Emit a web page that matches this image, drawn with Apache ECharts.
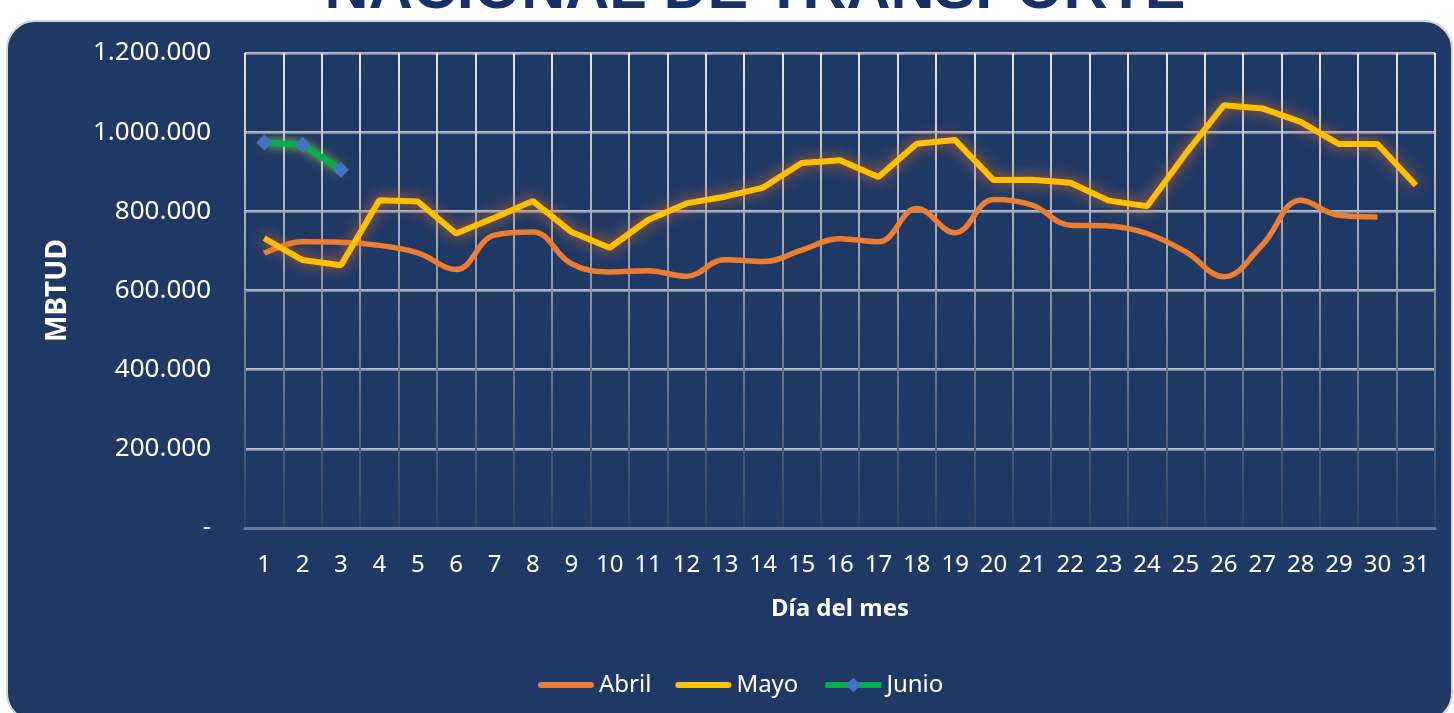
<!DOCTYPE html>
<html>
<head>
<meta charset="utf-8">
<script src="https://cdn.jsdelivr.net/npm/echarts@6/dist/echarts.min.js"></script>
<style>
html,body{margin:0;padding:0;background:#fff;}
#chart{width:1454px;height:713px;}
</style>
</head>
<body>
<div id="chart"></div>
<script>
const days = ['1','2','3','4','5','6','7','8','9','10','11','12','13','14','15','16','17','18','19','20','21','22','23','24','25','26','27','28','29','30','31'];
const abril = [694000, 723000, 722000, 714000, 695000, 653000, 740000, 748000, 668000, 647000, 650000, 636000, 678000, 673000, 702000, 731000, 723000, 807000, 746000, 830000, 816000, 765000, 763000, 744000, 698000, 635000, 715000, 828000, 790000, 786000, null];
const mayo = [732000, 677000, 664000, 828000, 825000, 744000, 784000, 826000, 748000, 708000, 778000, 820000, 837000, 860000, 922000, 929000, 887000, 971000, 980000, 879000, 880000, 872000, 827000, 813000, 945000, 1068000, 1060000, 1026000, 970000, 970000, 866000];
const junio = [974000, 968000, 905000];
const seriesNames = ['Abril', 'Mayo', 'Junio'];
const titleText = 'NACIONAL DE TRANSPORTE';
const yAxisName = 'MBTUD';
const xAxisName = 'Día del mes';

const chart = echarts.init(document.getElementById('chart'));
const font = '"Noto Sans", "Open Sans", sans-serif';
const gridGrad = new echarts.graphic.LinearGradient(0, 0, 0, 1, [
  {offset: 0, color: '#E6E8EC'},
  {offset: 1, color: '#4E5F80'}
]);
const vGrad = new echarts.graphic.LinearGradient(0, 0, 0, 1, [
  {offset: 0, color: '#E6E8EC'},
  {offset: 1, color: '#2E3F60'}
]);
const barIcon = 'path://M3,0 L53,0 A3,3 0 0 1 53,6 L3,6 A3,3 0 0 1 3,0 Z';
function fmt(v){
  if (v === 0) return '-';
  return String(v).replace(/\B(?=(\d{3})+(?!\d))/g, '.');
}
chart.setOption({
  backgroundColor: '#ffffff',
  animation: false,
  graphic: [
    {type: 'rect', z: -10, shape: {x: 7, y: 21, width: 1445, height: 700, r: 28},
     style: {fill: '#203864', stroke: '#D4D4D4', lineWidth: 2}},
    {type: 'text', z: 10, x: 755, y: -9,
     style: {text: titleText, fill: '#17306A', font: 'bold 61px "Liberation Sans", Arial, sans-serif',
             align: 'center', verticalAlign: 'middle'}}
  ],
  grid: {left: 245, right: 19, top: 53, bottom: 185, containLabel: false},
  legend: {
    data: [
      {name: seriesNames[0], icon: barIcon},
      {name: seriesNames[1], icon: barIcon},
      {name: seriesNames[2]}
    ],
    left: 533, top: 668,
    itemWidth: 56, itemHeight: 18, itemGap: 24,
    lineStyle: {width: 6, shadowBlur: 0},
    textStyle: {color: '#ffffff', fontSize: 24, fontFamily: font}
  },
  xAxis: {
    type: 'category', data: days, boundaryGap: true,
    name: xAxisName, nameLocation: 'middle', nameGap: 69,
    nameTextStyle: {color: '#ffffff', fontSize: 24, fontWeight: 'bold', fontFamily: font},
    axisLine: {show: true, lineStyle: {color: '#6B7A98', width: 3}},
    axisTick: {show: false},
    axisLabel: {color: '#ffffff', fontSize: 24, fontFamily: font, margin: 25, interval: 0},
    splitLine: {show: true, interval: 0, lineStyle: {color: vGrad, width: 2}}
  },
  yAxis: {
    type: 'value', min: 0, max: 1200000, interval: 200000,
    name: yAxisName, nameLocation: 'middle', nameGap: 173,
    nameTextStyle: {color: '#ffffff', fontSize: 28, fontWeight: 'bold', fontFamily: font},
    axisLine: {show: false}, axisTick: {show: false},
    axisLabel: {color: '#ffffff', fontSize: 26, fontFamily: font, margin: 34, formatter: fmt},
    splitLine: {show: true, lineStyle: {color: gridGrad, width: 3}}
  },
  series: [
    {name: seriesNames[0], type: 'line', data: abril, smooth: 0.4, symbol: 'none',
     color: '#ED7D31', lineStyle: {color: '#ED7D31', width: 5.5}, z: 2},
    {name: seriesNames[1], type: 'line', data: mayo, smooth: false, symbol: 'none',
     color: '#FFC000',
     lineStyle: {color: '#FFC000', width: 6, shadowBlur: 14, shadowColor: 'rgba(220,110,40,0.95)'}, z: 3},
    {name: seriesNames[2], type: 'line', data: junio, smooth: false, symbol: 'diamond', symbolSize: 16,
     itemStyle: {color: '#4472C4'},
     lineStyle: {color: '#00B050', width: 6, shadowBlur: 10, shadowColor: 'rgba(170,220,60,0.9)'}, z: 4}
  ]
});
</script>
</body>
</html>
